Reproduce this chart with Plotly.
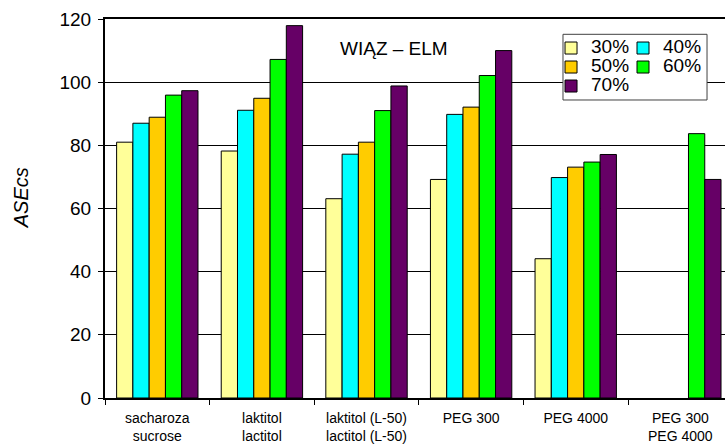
import plotly.graph_objects as go

# Categories (osmotic agents) and ASEcs values per concentration
categories = [
    "sacharoza<br>sucrose",
    "laktitol<br>lactitol",
    "laktitol (L-50)<br>lactitol (L-50)",
    "PEG 300",
    "PEG 4000",
    "PEG 300<br>PEG 4000",
]
conc_30 = [81.0, 78.2, 63.1, 69.2, 44.1, None]
conc_40 = [87.0, 91.1, 77.2, 89.8, 69.8, None]
conc_50 = [88.9, 94.9, 81.0, 92.1, 73.1, None]
conc_60 = [95.9, 107.2, 91.0, 102.1, 74.7, 83.7]
conc_70 = [97.3, 117.9, 98.8, 110.0, 77.1, 69.2]

series_names = ["30%", "40%", "50%", "60%", "70%"]
series_values = [conc_30, conc_40, conc_50, conc_60, conc_70]
series_colors = ["#FFFF99", "#00FFFF", "#FFCC00", "#00FF00", "#660066"]
# two-column legend: left column 30/50/70, right column 40/60
series_legend = ["legend", "legend2", "legend", "legend2", "legend"]

y_ticks = [0, 20, 40, 60, 80, 100, 120]

FONT = "Liberation Sans, Arial, sans-serif"

fig = go.Figure()
for name, vals, col, leg in zip(series_names, series_values, series_colors, series_legend):
    fig.add_trace(go.Bar(
        x=categories,
        y=vals,
        name=f'<span style="font-size:19px">{name}</span>',
        marker=dict(color=col, line=dict(color="#000000", width=1)),
        legend=leg,
        hoverinfo="x+y",
    ))

legend_common = dict(
    orientation="v",
    bgcolor="rgba(0,0,0,0)",
    borderwidth=0,
    font=dict(family=FONT, size=12, color="#000000"),
    xanchor="left",
    yanchor="top",
    y=0.9617,
    itemclick=False,
    itemdoubleclick=False,
)

fig.update_layout(
    width=725,
    height=444,
    margin=dict(l=105, r=0, t=19, b=46),
    paper_bgcolor="white",
    plot_bgcolor="white",
    barmode="group",
    bargap=0.222,
    bargroupgap=0,
    font=dict(family=FONT, color="#000000"),
    legend=dict(x=0.7194, **legend_common),
    legend2=dict(x=0.8355, **legend_common),
    xaxis=dict(
        type="category",
        range=[-0.5, 5.427],
        tickson="boundaries",
        ticks="outside",
        ticklen=5,
        tickwidth=1,
        tickcolor="#000000",
        ticklabelstandoff=6,
        showgrid=False,
        showline=True,
        linecolor="#000000",
        linewidth=2,
        mirror=True,
        tickfont=dict(family=FONT, size=14, color="#000000"),
        fixedrange=True,
    ),
    yaxis=dict(
        range=[0, 120],
        tickvals=y_ticks,
        ticks="outside",
        ticklen=5,
        tickwidth=1,
        tickcolor="#000000",
        ticklabelstandoff=3,
        showgrid=True,
        gridcolor="#000000",
        gridwidth=1,
        showline=True,
        linecolor="#000000",
        linewidth=2,
        zeroline=False,
        tickfont=dict(family=FONT, size=19, color="#000000"),
        fixedrange=True,
    ),
    shapes=[
        dict(
            type="rect", xref="paper", yref="paper",
            x0=0.7387, x1=0.9710, y0=0.7863, y1=0.9596,
            fillcolor="white", line=dict(color="#404040", width=1),
            layer="above",
        )
    ],
    annotations=[
        dict(
            text="WIĄZ – ELM", xref="paper", yref="paper",
            x=0.466, y=0.921, xanchor="center", yanchor="middle",
            showarrow=False, font=dict(family=FONT, size=19, color="#000000"),
        ),
        dict(
            text="<i>ASEcs</i>", xref="paper", yref="paper",
            x=-0.1350, y=0.5277, xanchor="center", yanchor="middle",
            textangle=-90, showarrow=False,
            font=dict(family=FONT, size=20, color="#000000"),
        ),
    ],
)

fig.write_html("out.html")
